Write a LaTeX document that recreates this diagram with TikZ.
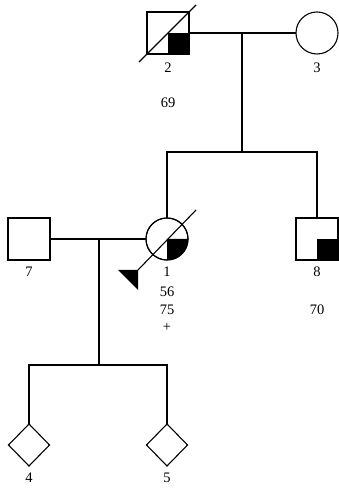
\documentclass[tikz,border=0pt]{standalone}
\usepackage{fontspec}
\setmainfont{Liberation Serif}
\usetikzlibrary{shapes.geometric}
\tikzset{
  male/.style={draw,rectangle,minimum size=42pt,inner sep=0pt,outer sep=0pt},
  female/.style={draw,circle,minimum size=42pt,inner sep=0pt,outer sep=0pt},
  unknown/.style={draw,diamond,minimum width=41pt,minimum height=42pt,inner sep=0pt,outer sep=0pt},
  tag/.style={inner sep=0pt,font=\fontsize{14.5}{16}\selectfont}
}
\begin{document}
\begin{tikzpicture}[x=1pt,y=1pt,line width=1.1pt]
\useasboundingbox (0,0) rectangle (339,489);
% generation I
\node[male] (p2) at (168,456){};
\node[female] (p3) at (317,456){};
\fill (p2.center) rectangle (p2.south east);
\draw[line width=1.1pt] (139,427)--(196,484);
\node[tag] (n2) at (168,421){2};
\node[tag] (a2) at (168,386){69};
\node[tag] (n3) at (317,421){3};
% generation II
\node[male] (p7) at (29,250){};
\node[female] (p1) at (167,250){};
\node[male] (p8) at (317,250){};
\fill (p1.center)--(p1.east) arc[start angle=0,end angle=-90,radius=21pt]--cycle;
\draw (p1) circle[radius=21pt];
\draw (138,219)--(196,279);
\fill (118,219)--(138,219)--(138,199)--cycle;
\fill (p8.center) rectangle (p8.south east);
\node[tag] (n7) at (29,217){7};
\node[tag] (n1) at (167,217){1};
\node[tag] (a1) at (167,197){56};
\node[tag] (b1) at (167,179){75};
\node[tag] (c1) at (167,162){+};
\node[tag] (n8) at (317,217){8};
\node[tag] (a8) at (317,179){70};
% generation III
\node[unknown] (p4) at (29,44){};
\node[unknown] (p5) at (167,44){};
\node[tag] (n4) at (29,11){4};
\node[tag] (n5) at (167,11){5};
% lines
\coordinate (m23) at (242,456);
\coordinate (s23) at (242,337);
\coordinate (m71) at (99,250);
\coordinate (s71) at (99,124);
\draw (p2)--(p3);\draw (m23)--(s23);\draw (p1.north) |- (s23);\draw (p8.north) |- (s23);
\draw (p7)--(p1);\draw (m71)--(s71);\draw (p4.north) |- (s71);\draw (p5.north) |- (s71);
\end{tikzpicture}
\end{document}
